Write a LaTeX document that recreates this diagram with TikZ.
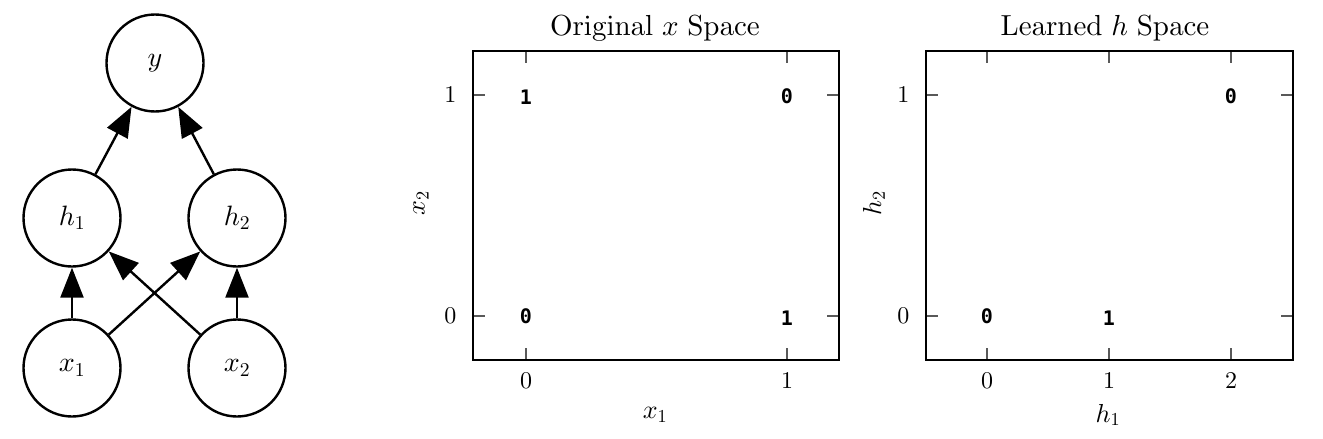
\documentclass[tikz,border=0pt]{standalone}
\usepackage[no-math]{fontspec}
\newfontfamily\datafont{DejaVu Sans Mono}
\DeclareFontShape{OML}{cmm}{m}{it}{<->cmmi10}{}
\DeclareFontShape{OT1}{cmr}{m}{n}{<->cmr10}{}
\DeclareFontShape{OMS}{cmsy}{m}{n}{<->cmsy10}{}
\usetikzlibrary{arrows.meta}
\begin{document}
\begin{tikzpicture}[x=1pt,y=-1pt,
  unit/.style={circle,draw,line width=2.4pt,minimum size=97pt,inner sep=0pt,font=\fontsize{28}{28}\selectfont},
  conn/.style={line width=2.4pt,-{Triangle[length=30pt,width=23pt]}},
  frame/.style={line width=2.4pt},
  tickline/.style={line width=1.5pt,black!65},
  ticklab/.style={font=\fontsize{24}{24}\selectfont},
  axlab/.style={font=\fontsize{26}{26}\selectfont},
  ptitle/.style={font=\fontsize{29}{29}\selectfont},
  datum/.style={font=\datafont\bfseries\fontsize{20}{20}\selectfont}]
\useasboundingbox (0,0) rectangle (1323,439);
% network
\node[unit] (y) at (155,63) {$y$};
\node[unit] (h1) at (72,218) {$h_1$};
\node[unit] (h2) at (237,218) {$h_2$};
\node[unit] (x1) at (72,368) {$x_1$};
\node[unit] (x2) at (237,368) {$x_2$};
\draw[conn] (h1) -- (y);
\draw[conn] (h2) -- (y);
\draw[conn] (x1) -- (h1);
\draw[conn] (x2) -- (h2);
\draw[conn] (x1) -- (h2);
\draw[conn] (x2) -- (h1);
% left plot
\foreach \x in {526,787}{
  \draw[tickline] (\x,360) -- (\x,348);
  \draw[tickline] (\x,51) -- (\x,63);
}
\foreach \y in {95,316}{
  \draw[tickline] (473,\y) -- (485,\y);
  \draw[tickline] (839,\y) -- (827,\y);
}
\draw[frame] (473,51) rectangle (839,360);
\node[ptitle] (t1) at (655,28) {$\mathrm{Original}\ x\ \mathrm{Space}$};
\node[ticklab,anchor=east] (l1y1) at (460,95) {$1$};
\node[ticklab,anchor=east] (l1y0) at (460,316) {$0$};
\node[ticklab] (l1x0) at (526,381) {$0$};
\node[ticklab] (l1x1) at (787,381) {$1$};
\node[axlab] (l1xl) at (655,415) {$x_1$};
\node[axlab,rotate=90] (l1yl) at (421,203) {$x_2$};
\node[datum] (a1) at (526,97) {1};
\node[datum] (a2) at (787,96) {0};
\node[datum] (a3) at (526,316) {0};
\node[datum] (a4) at (787,318) {1};
% right plot
\foreach \x in {987,1109,1231}{
  \draw[tickline] (\x,360) -- (\x,348);
  \draw[tickline] (\x,51) -- (\x,63);
}
\foreach \y in {95,316}{
  \draw[tickline] (926,\y) -- (938,\y);
  \draw[tickline] (1293,\y) -- (1281,\y);
}
\draw[frame] (926,51) rectangle (1293,360);
\node[ptitle] (t2) at (1105,28) {$\mathrm{Learned}\ h\ \mathrm{Space}$};
\node[ticklab,anchor=east] (r1y1) at (913,95) {$1$};
\node[ticklab,anchor=east] (r1y0) at (913,316) {$0$};
\node[ticklab] (r1x0) at (987,381) {$0$};
\node[ticklab] (r1x1) at (1109,381) {$1$};
\node[ticklab] (r1x2) at (1231,381) {$2$};
\node[axlab] (r1xl) at (1108,415) {$h_1$};
\node[axlab,rotate=90] (r1yl) at (874,203) {$h_2$};
\node[datum] (b1) at (987,316) {0};
\node[datum] (b2) at (1109,318) {1};
\node[datum] (b3) at (1231,96) {0};
\end{tikzpicture}
\end{document}
